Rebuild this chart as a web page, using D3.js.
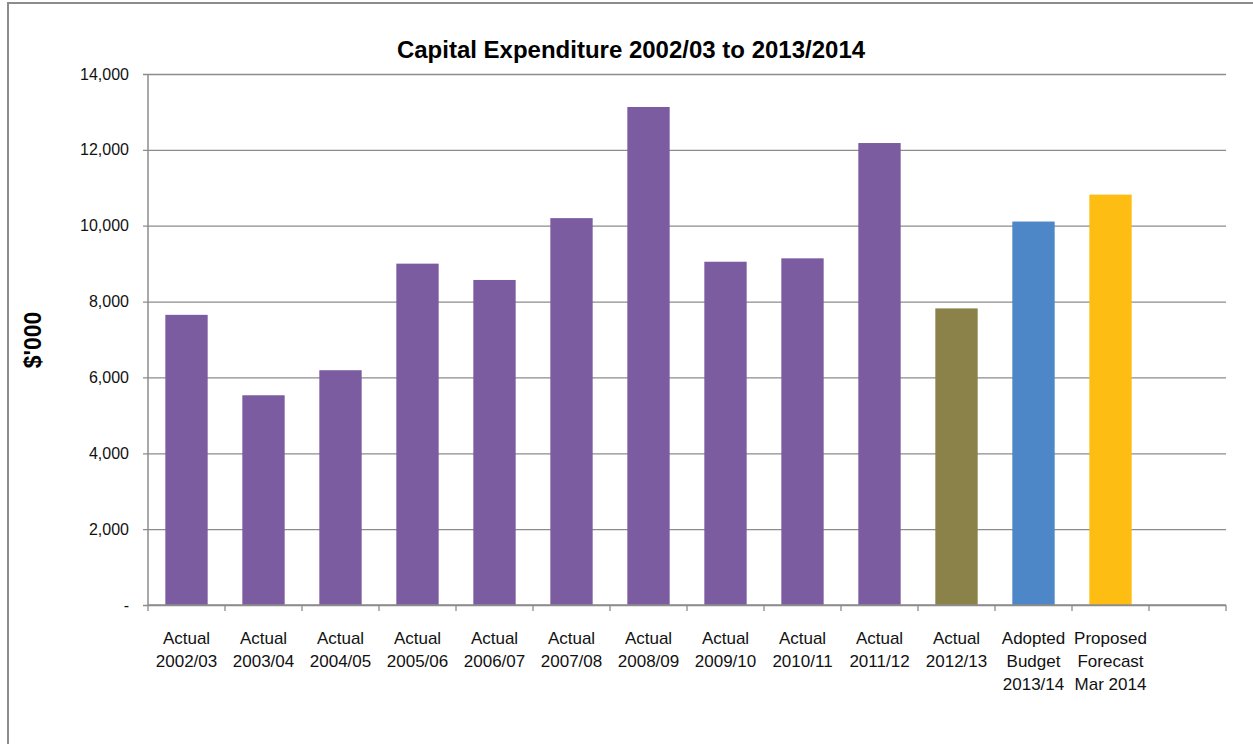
<!DOCTYPE html>
<html>
<head>
<meta charset="utf-8">
<script src="https://cdn.jsdelivr.net/npm/d3@7"></script>
<style>
  body { margin: 0; background: #fff; }
  svg text { font-family: "Liberation Sans Narrow", "Arial Narrow", "Liberation Sans", sans-serif; }
</style>
</head>
<body>
<div class="chart-container"></div>
<script>
// --- Data ---
var categories = [
    ["Actual", "2002/03"], ["Actual", "2003/04"], ["Actual", "2004/05"],
    ["Actual", "2005/06"], ["Actual", "2006/07"], ["Actual", "2007/08"],
    ["Actual", "2008/09"], ["Actual", "2009/10"], ["Actual", "2010/11"],
    ["Actual", "2011/12"], ["Actual", "2012/13"],
    ["Adopted", "Budget", "2013/14"], ["Proposed", "Forecast", "Mar 2014"],
    []  // empty slot at the end
];
var values = [7650, 5530, 6190, 9000, 8570, 10200, 13130, 9050, 9140, 12180, 7820, 10110, 10820];
var barGroups = ["actual", "actual", "actual", "actual", "actual", "actual", "actual",
                 "actual", "actual", "actual", "latest", "budget", "forecast"];
var yTicks = [0, 2000, 4000, 6000, 8000, 10000, 12000, 14000];

// --- Configuration ---
const w = 1253;
const h = 744;
const plotLeft = 148, plotRight = 1226, plotTop = 74, plotBottom = 605;

var colour = d3.scaleOrdinal()
    .domain(["actual", "latest", "budget", "forecast"])
    .range(["#7b5ca0", "#8b8249", "#4d87c7", "#fdbd12"]);

var idx = d3.range(categories.length);

// slot scale (tick boundaries)
var xSlot = d3.scaleBand()
    .domain(idx)
    .range([plotLeft, plotRight]);

// bar scale
var xScale = d3.scaleBand()
    .domain(idx)
    .range([plotLeft, plotRight])
    .paddingInner(0.45)
    .paddingOuter(0.225);

var yScale = d3.scaleLinear()
    .domain([0, 14000])
    .range([plotBottom, plotTop]);

var svg = d3.select(".chart-container")
    .append("svg")
    .attr("width", w)
    .attr("height", h);

// outer frame
svg.append("rect")
    .attr("x", 8)
    .attr("y", 3)
    .attr("width", w + 20)
    .attr("height", h + 20)
    .attr("fill", "none")
    .attr("stroke", "#8c8c8c")
    .attr("stroke-width", 2);

// title
svg.append("text")
    .attr("x", 631)
    .attr("y", 58)
    .attr("text-anchor", "middle")
    .attr("font-size", "24px")
    .attr("font-weight", "bold")
    .attr("fill", "#000")
    .text("Capital Expenditure 2002/03 to 2013/2014");

// y axis label
svg.append("text")
    .attr("transform", "translate(41,340) rotate(-90)")
    .attr("text-anchor", "middle")
    .attr("font-size", "23px")
    .attr("font-weight", "bold")
    .attr("font-family", "Liberation Sans, Arial, sans-serif")
    .text("$'000");

// gridlines + y axis
var yAxis = d3.axisLeft(yScale)
    .tickValues(yTicks)
    .tickSize(-(plotRight - plotLeft))
    .tickPadding(19)
    .tickFormat(function (d) { return d === 0 ? "-" : d3.format(",")(d); });

var gy = svg.append("g")
    .attr("transform", "translate(" + plotLeft + ",0)")
    .call(yAxis);
gy.select(".domain").remove();
gy.selectAll(".tick line")
    .attr("x1", -5)
    .attr("stroke", "#8c8c8c")
    .attr("stroke-width", 1.3);
gy.selectAll(".tick text")
    .attr("font-size", "16px")
    .attr("fill", "#111");

// y axis line
svg.append("line")
    .attr("x1", plotLeft).attr("x2", plotLeft)
    .attr("y1", plotTop).attr("y2", plotBottom)
    .attr("stroke", "#8c8c8c")
    .attr("stroke-width", 1.5);

// bars
svg.selectAll("rect.bar")
    .data(values)
    .enter()
    .append("rect")
    .attr("class", "bar")
    .attr("x", function (d, i) { return xScale(i); })
    .attr("y", function (d) { return yScale(d); })
    .attr("width", xScale.bandwidth())
    .attr("height", function (d) { return yScale(0) - yScale(d); })
    .attr("fill", function (d, i) { return colour(barGroups[i]); });

// x axis line and boundary ticks
svg.append("line")
    .attr("x1", plotLeft).attr("x2", plotRight)
    .attr("y1", plotBottom).attr("y2", plotBottom)
    .attr("stroke", "#8c8c8c")
    .attr("stroke-width", 1.5);

var bounds = idx.map(function (i) { return xSlot(i); }).concat([plotRight]);
svg.selectAll("line.xtick")
    .data(bounds)
    .enter()
    .append("line")
    .attr("class", "xtick")
    .attr("x1", function (d) { return d; })
    .attr("x2", function (d) { return d; })
    .attr("y1", plotBottom)
    .attr("y2", plotBottom + 6)
    .attr("stroke", "#8c8c8c")
    .attr("stroke-width", 1.3);

// category labels
var labels = svg.selectAll("text.xlab")
    .data(categories)
    .enter()
    .append("text")
    .attr("class", "xlab")
    .attr("text-anchor", "middle")
    .attr("font-size", "17px")
    .attr("fill", "#111")
    .attr("x", function (d, i) { return xSlot(i) + xSlot.bandwidth() / 2; })
    .attr("y", 644);

labels.selectAll("tspan")
    .data(function (d) { return d; })
    .enter()
    .append("tspan")
    .attr("x", function () { return d3.select(this.parentNode).attr("x"); })
    .attr("dy", function (d, i) { return i === 0 ? 0 : 23; })
    .text(function (d) { return d; });
</script>
</body>
</html>
